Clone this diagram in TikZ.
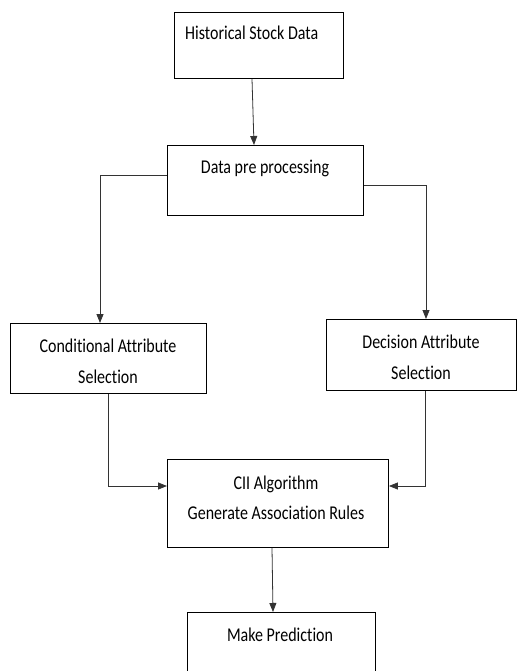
\documentclass[tikz,border=0pt]{standalone}
\usepackage{fontspec}
\setmainfont{Carlito}[RawFeature=-liga]
\usetikzlibrary{arrows.meta}
\begin{document}
\begin{tikzpicture}[x=1pt,y=-1pt,
  box/.style={draw=black,line width=0.9pt,inner sep=0pt,anchor=north west},
  txt/.style={font=\fontsize{16}{25.6}\selectfont,inner sep=0pt,align=center,text=black,yscale=1.22,transform shape},
  arr/.style={draw=black!80,line width=0.8pt,-{Triangle[length=9pt,width=7pt]}}]
\clip (0,0) rectangle (517,671);
\fill[white] (0,0) rectangle (517,671);
% boxes
\node[box,minimum width=169pt,minimum height=66pt] (b1) at (174,12) {};
\node[box,minimum width=196pt,minimum height=70pt] (b2) at (167,145) {};
\node[box,minimum width=196pt,minimum height=70pt] (b3) at (10,323) {};
\node[box,minimum width=190pt,minimum height=71pt] (b4) at (326,319) {};
\node[box,minimum width=221pt,minimum height=88pt] (b5) at (167,459) {};
\node[box,minimum width=188pt,minimum height=80pt] (b6) at (187,612) {};
% texts
\node[txt,anchor=west] (t1) at (185,33) {Historical Stock Data};
\node[txt] (t2) at (265,168) {Data pre processing};
\node[txt] (t3) at (108,361) {Conditional Attribute\\Selection};
\node[txt] (t4) at (421,357) {Decision Attribute\\Selection};
\node[txt,font=\fontsize{16}{24.6}\selectfont] (t5) at (276,498) {CII Algorithm\\Generate Association Rules};
\node[txt] (t6) at (280,635) {Make Prediction};
% connectors
\draw[arr] ([xshift=78pt]b1.south west) -- ([xshift=87pt]b2.north west);
\draw[arr] ([yshift=-30pt]b2.north west) -| ([xshift=90pt]b3.north west);
\draw[arr] ([yshift=-40pt]b2.north east) -| ([xshift=100pt]b4.north west);
\draw[arr] ([xshift=98pt]b3.south west) |- ([yshift=-27pt]b5.north west);
\draw[arr] ([xshift=99pt]b4.south west) |- ([yshift=-27pt]b5.north east);
\draw[arr] ([xshift=105pt]b5.south west) -- ([xshift=86pt]b6.north west);
\end{tikzpicture}
\end{document}
